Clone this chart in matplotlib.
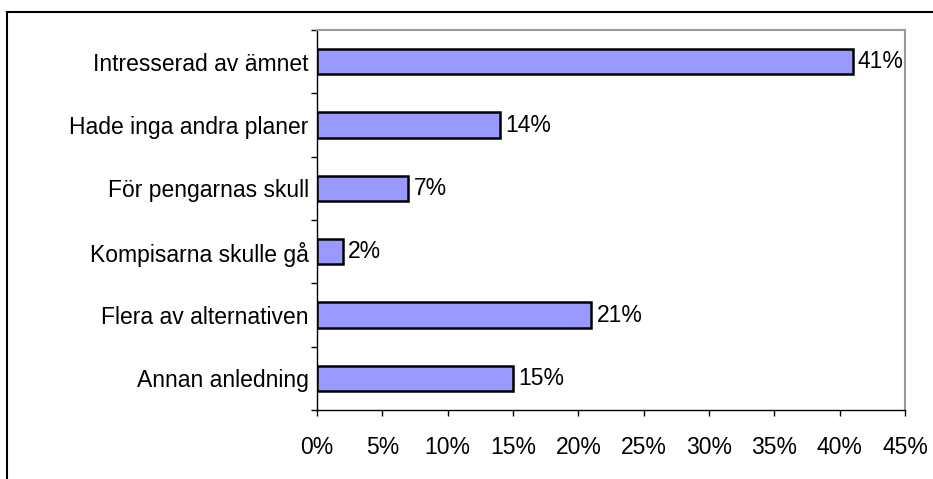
import matplotlib
matplotlib.use("Agg")
import matplotlib.pyplot as plt
from matplotlib.lines import Line2D
from matplotlib.ticker import FuncFormatter, FixedLocator

categories = ["Intresserad av ämnet", "Hade inga andra planer", "För pengarnas skull",
              "Kompisarna skulle gå", "Flera av alternativen", "Annan anledning"]
values = [41, 14, 7, 2, 21, 15]
xticks = [0, 5, 10, 15, 20, 25, 30, 35, 40, 45]

plt.rcParams['font.family'] = ['Liberation Sans', 'DejaVu Sans']
FS = 16.5
W, H = 933, 479
fig = plt.figure(figsize=(W/100, H/100), dpi=100)
ax = fig.add_axes([317/W, 1-410/H, (905-317)/W, (410-30)/H])

n = len(categories)
ypos = list(range(n))[::-1]
ax.barh(ypos, values, height=0.4, color="#9999FF", edgecolor="black", linewidth=1.8, zorder=3)
for y, v in zip(ypos, values):
    ax.text(v + 0.4, y, f"{v}%", va="center", ha="left", fontsize=FS)

ax.set_xlim(0, 45)
ax.set_ylim(-0.5, n - 0.5)
ax.xaxis.set_major_locator(FixedLocator(xticks))
ax.xaxis.set_major_formatter(FuncFormatter(lambda x, p: f"{int(x)}%"))
ax.set_yticks(ypos)
ax.set_yticklabels(categories)
ax.yaxis.set_minor_locator(FixedLocator([i - 0.5 for i in range(n + 1)]))
ax.tick_params(axis="y", which="major", length=0, pad=6, labelsize=FS)
ax.tick_params(axis="y", which="minor", length=4, width=1, direction="out", color="black")
ax.tick_params(axis="x", length=4, width=1, direction="out", pad=15, labelsize=FS)

for s in ["top", "right"]:
    ax.spines[s].set_color("#999999")
    ax.spines[s].set_linewidth(1.5)
for s in ["left", "bottom"]:
    ax.spines[s].set_color("black")
    ax.spines[s].set_linewidth(1)

# outer chart frame
fig.add_artist(Line2D([7/W, 7/W], [0, 1-12/H], color="black", lw=1.5, transform=fig.transFigure))
fig.add_artist(Line2D([7/W, 1], [1-12/H, 1-12/H], color="black", lw=1.5, transform=fig.transFigure))

fig.savefig("out.png", dpi=100)
